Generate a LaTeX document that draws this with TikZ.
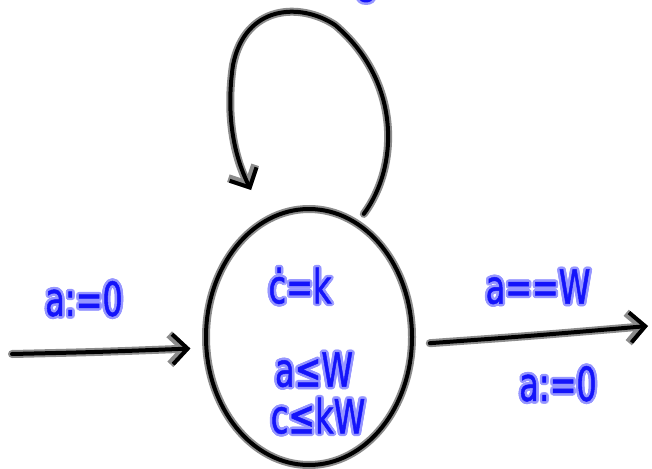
\documentclass[tikz,border=0pt]{standalone}
\usepackage{fontspec}
\usepackage[copies]{contour}
\newfontfamily\hand[FakeStretch=0.68,FakeBold=1]{DejaVu Sans}
\usetikzlibrary{arrows.meta,shapes.geometric}
\definecolor{ink}{RGB}{20,20,250}
\definecolor{glow}{RGB}{150,150,255}
\contourlength{2.5pt}
\contournumber{12}
\newcommand{\hw}[1]{\contour{glow}{#1}}
\newcommand{\inkpath}[2][]{\draw[halo,#1] #2; \draw[pen,#1] #2;}
\tikzset{
  lbl/.style={font=\hand\fontsize{47}{52}\selectfont, text=ink, inner sep=0pt},
  halo/.style={draw=black!45, line width=8pt, line cap=round, line join=round},
  pen/.style={draw=black, line width=4pt, line cap=round, line join=round},
  tipbarb/.style={-{Straight Barb[length=15pt,width=30pt]}}
}
\begin{document}
\begin{tikzpicture}[x=1pt,y=-1pt]
\useasboundingbox (0,0) rectangle (652,468);
\clip (0,0) rectangle (652,468);
% state
\node[ellipse, minimum width=206pt, minimum height=256pt, inner sep=0pt,
      draw=black, line width=4pt, preaction={draw=black!45, line width=8pt}] (s) at (309,337) {};
\coordinate (inS) at (12,354);
\coordinate (outE) at (648,326);
\coordinate (loopT) at (251,190);
% incoming
\inkpath[tipbarb, shorten >=14pt]{(inS) .. controls (100,352) .. (s.186)}
% outgoing
\inkpath[tipbarb, shorten <=16pt]{(s.-4) .. controls (530,336) .. (outE)}
% self loop
\inkpath[tipbarb, shorten <=10pt]{(s.67) .. controls (400,165) and (400,80) .. (335,25) .. controls (300,2) and (245,5) .. (233,65) .. controls (225,120) and (236,160) .. (loopT)}
% partial label at top edge
\fill[glow] (366,-2) ellipse (10 and 7);
\fill[ink] (366,-2) ellipse (7 and 4.5);
% labels
\node[lbl] (lin) at (84,300) {\hw{a:=0}};
\node[lbl] (lguard) at (538,288) {\hw{a==W}};
\node[lbl] (lreset) at (558,385) {\hw{a:=0}};
\node[lbl] (t1) at (300,287) {\hw{ċ=k}};
\node[lbl] (t2) at (314,371) {\hw{a≤W}};
\node[lbl] (t3) at (318,417) {\hw{c≤kW}};
\end{tikzpicture}
\end{document}
